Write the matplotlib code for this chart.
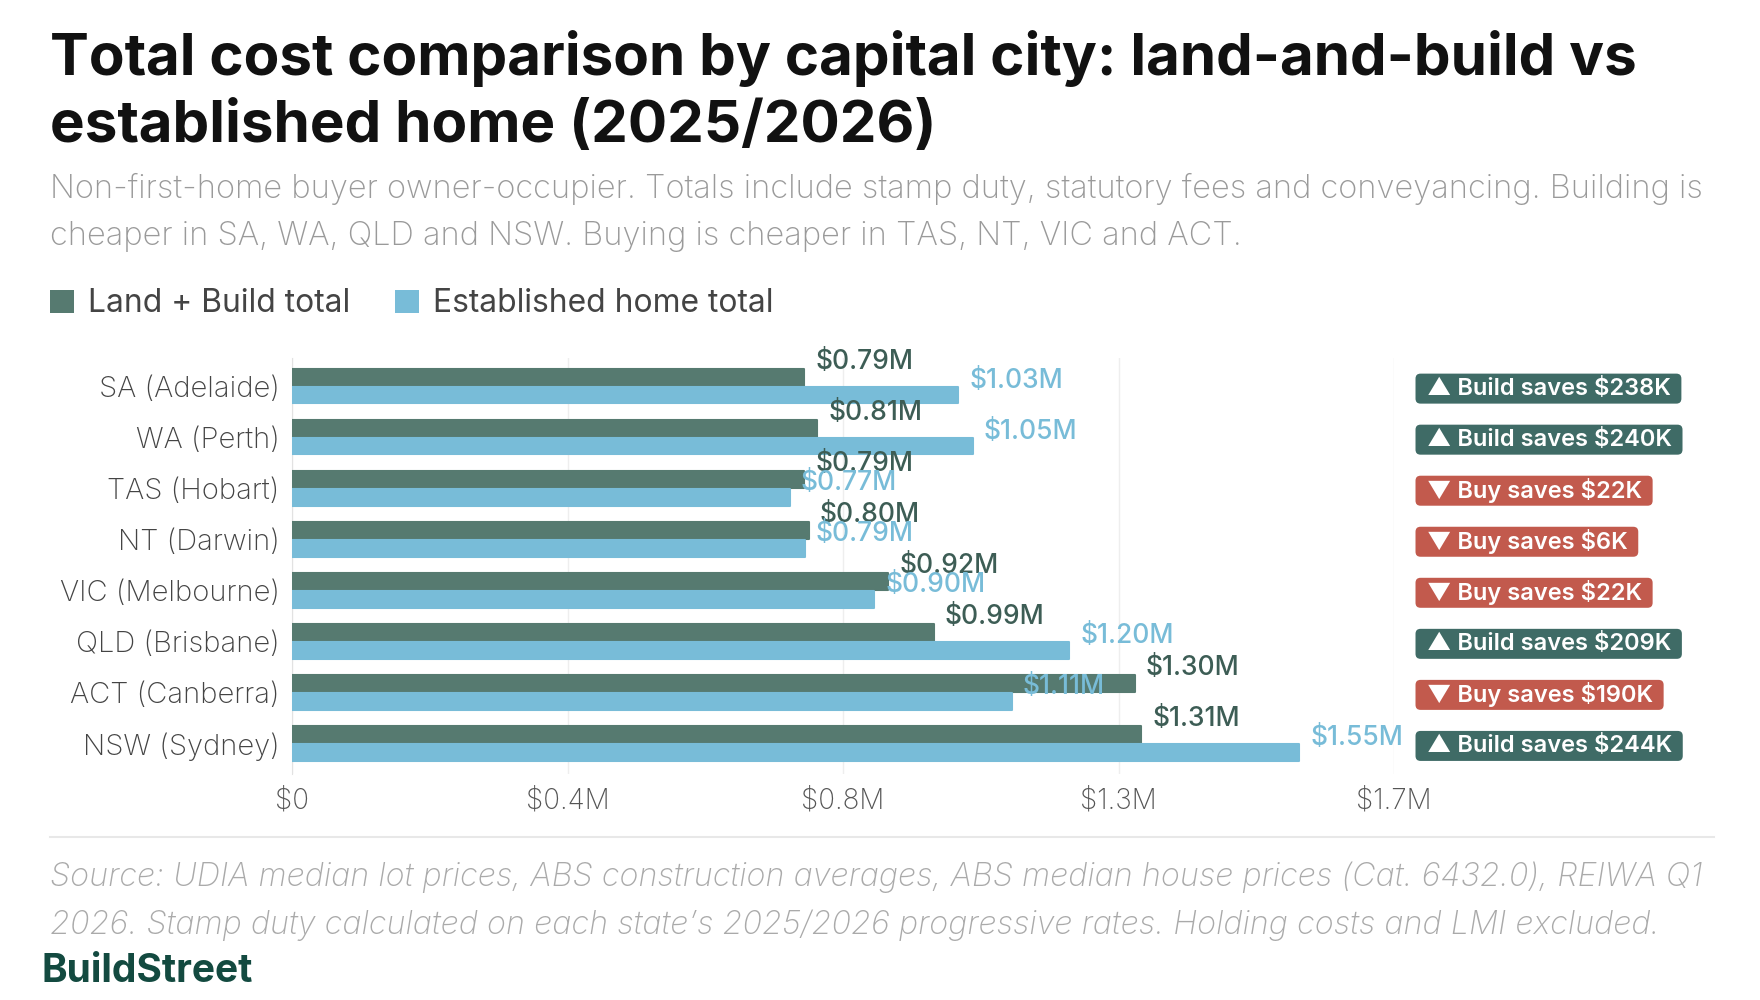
import numpy as np
import matplotlib
matplotlib.use("Agg")
import matplotlib.pyplot as plt
from matplotlib.patches import Patch, FancyBboxPatch
import matplotlib.transforms as mtransforms

plt.rcParams['font.family'] = ['Inter', 'DejaVu Sans']

# data ($M)
cities = ['SA (Adelaide)', 'WA (Perth)', 'TAS (Hobart)', 'NT (Darwin)',
          'VIC (Melbourne)', 'QLD (Brisbane)', 'ACT (Canberra)', 'NSW (Sydney)']
build_total = [0.790, 0.810, 0.790, 0.797, 0.920, 0.990, 1.300, 1.310]
established_total = [1.028, 1.050, 0.768, 0.791, 0.898, 1.199, 1.110, 1.554]
x_max = 1.7

build_col = '#567a70'
est_col = '#78bcd8'
green = '#3f6b66'
red = '#c25a4d'

fig = plt.figure(figsize=(17.6, 10), dpi=100)
fig.patch.set_facecolor('white')
ax = fig.add_axes([292/1760, 1-774/1000, (1394-292)/1760, (774-358)/1000])

y = np.arange(len(cities))
h = 0.33
ax.barh(y - 0.175, build_total, height=h, color=build_col, edgecolor=build_col,
        linewidth=1.5, joinstyle='round', zorder=3)
ax.barh(y + 0.175, established_total, height=h, color=est_col, edgecolor=est_col,
        linewidth=1.5, joinstyle='round', zorder=3)

ax.set_ylim(7.6, -0.55)
ax.set_xlim(0, x_max)
ticks = np.linspace(0, x_max, 5)
ax.set_xticks(ticks)
ax.set_xticklabels(['$0' if t == 0 else f'${t:.1f}M' for t in ticks],
                   fontsize=20, color='#555555', fontweight='light')
ax.set_yticks(y)
ax.set_yticklabels(cities, fontsize=21, color='#444444', fontweight='light')
ax.tick_params(length=0, pad=9)
ax.tick_params(axis='x', pad=10)
ax.grid(axis='x', color='#eeeeee', linewidth=1, zorder=0)
for s in ['top', 'right', 'bottom']:
    ax.spines[s].set_visible(False)
ax.spines['left'].set_color('#e2e2e2')

# value labels
for i in range(len(cities)):
    ax.annotate(f'${build_total[i]:.2f}M', (build_total[i], i - 0.175),
                xytext=(8, 11), textcoords='offset points', va='center',
                fontsize=19, color='#3d5d55', fontweight='medium', zorder=4)
    ax.annotate(f'${established_total[i]:.2f}M', (established_total[i], i + 0.175),
                xytext=(8, 10), textcoords='offset points', va='center',
                fontsize=19, color=est_col, fontweight='medium', zorder=4)

# savings badges
trans = mtransforms.blended_transform_factory(ax.transAxes, ax.transData)
badges = []
for i in range(len(cities)):
    diff = round((established_total[i] - build_total[i]) * 1000)
    if diff > 0:
        s, c = f'▲ Build saves ${diff}K', green
    else:
        s, c = f'▼ Buy saves ${-diff}K', red
    t = ax.text(1.0295, i + 0.05, s, transform=trans, va='center', ha='left', fontsize=17,
                fontweight='semibold', color='white', clip_on=False, zorder=6)
    badges.append((t, c))

# title, subtitle
fig.text(50/1760, 1-75/1000, 'Total cost comparison by capital city: land-and-build vs',
         fontsize=42, fontweight='bold', color='#111111', va='baseline')
fig.text(50/1760, 1-142/1000, 'established home (2025/2026)',
         fontsize=42, fontweight='bold', color='#111111', va='baseline')
fig.text(50/1760, 1-189/1000,
         'Non-first-home buyer owner-occupier. Totals include stamp duty, statutory fees and conveyancing. Building is',
         fontsize=23.5, fontweight='light', color='#9a9a9a', va='center')
fig.text(50/1760, 1-236/1000,
         'cheaper in SA, WA, QLD and NSW. Buying is cheaper in TAS, NT, VIC and ACT.',
         fontsize=23.5, fontweight='light', color='#9a9a9a', va='center')

handles = [Patch(facecolor=build_col, label='Land + Build total'),
           Patch(facecolor=est_col, label='Established home total')]
fig.legend(handles=handles, loc='center left', bbox_to_anchor=(50/1760, 1-304/1000),
           ncol=2, frameon=False, fontsize=22.9, handlelength=0.75, handleheight=0.75,
           handletextpad=0.45, columnspacing=1.4, labelcolor='#444444',
           borderpad=0, borderaxespad=0)

# footer
fig.add_artist(plt.Line2D([50/1760, 1714/1760], [1-837/1000, 1-837/1000],
                          color='#e8e8e8', linewidth=1.5))
fig.text(50/1760, 1-877/1000,
         'Source: UDIA median lot prices, ABS construction averages, ABS median house prices (Cat. 6432.0), REIWA Q1',
         fontsize=23.3, fontstyle='italic', fontweight='light', color='#aaaaaa', va='center')
fig.text(50/1760, 1-925/1000,
         '2026. Stamp duty calculated on each state’s 2025/2026 progressive rates. Holding costs and LMI excluded.',
         fontsize=23.3, fontstyle='italic', fontweight='light', color='#aaaaaa', va='center')
fig.text(41/1760, 1-971/1000, 'BuildStreet', fontsize=28, fontweight='bold',
         color='#134a40', va='center')

# badge backgrounds sized from the rendered text (added to the axes, under the text)
fig.canvas.draw()
renderer = fig.canvas.get_renderer()
for t, c in badges:
    bb = t.get_window_extent(renderer)
    yc = ax.transData.transform((0, t.get_position()[1]))[1]
    padx, hh = 11, 15
    box = FancyBboxPatch((bb.x0 - padx, yc - hh), bb.width + 2 * padx, 2 * hh,
                         boxstyle='round,pad=0,rounding_size=5', fc=c, ec='none',
                         transform=mtransforms.IdentityTransform(), zorder=5,
                         clip_on=False)
    ax.add_artist(box)

fig.savefig('out.png', dpi=100, facecolor='white')
